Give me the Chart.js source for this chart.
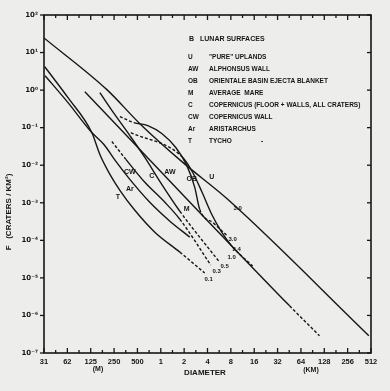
<!DOCTYPE html>
<html>
<head>
<meta charset="utf-8">
<script src="https://cdn.jsdelivr.net/npm/chart.js@4.4.1/dist/chart.umd.min.js"></script>
<style>
  html, body { margin: 0; padding: 0; background: #ededeb; }
  #wrap { width: 390px; height: 391px; }
</style>
</head>
<body>
<div id="wrap"><canvas id="grafica" width="390" height="391"></canvas></div>
<script>
// diameter axis (km) and the labels printed under it
const xTicks = [0.03125, 0.0625, 0.125, 0.25, 0.5, 1, 2, 4, 8, 16, 32, 64, 128, 256, 512];
const xTickLabels = ["31", "62", "125", "250", "500", "1", "2", "4", "8", "16", "32", "64", "128", "256", "512"];
const yTicks = [1e-7, 1e-6, 1e-5, 1e-4, 1e-3, 1e-2, 1e-1, 1, 10, 100];
const yTickLabels = ["10⁻⁷", "10⁻⁶", "10⁻⁵", "10⁻⁴", "10⁻³", "10⁻²", "10⁻¹", "10⁰", "10¹", "10²"];

// cumulative crater frequency curves: diameter (km) / F (craters per km²)
// *Dash = indexes of segments drawn dashed
const uD = [0.03125, 0.202, 0.537, 1.92, 7.28, 480];
const uF = [24.5, 1.03, 0.128, 0.0119, 1.24e-3, 2.9e-7];
const uDash = [];

const obD = [0.297, 0.449, 0.68, 1.03, 1.56, 2.16, 2.74, 3.17, 4.81, 7.28];
const obF = [0.197, 0.136, 0.114, 0.0698, 0.0296, 9.9e-3, 2.58e-3, 6.7e-4, 2.86e-4, 1.29e-4];
const obDash = [0, 7, 8];

const awD = [0.411, 1.92, 2.58, 3.37, 4.53, 6.09, 8.44, 15.3];
const awF = [0.0741, 0.0161, 6.4e-3, 2.0e-3, 4.95e-4, 1.65e-4, 6.6e-5, 2.07e-5];
const awDash = [0, 6];

const mD = [0.105, 45.7, 111];
const mF = [0.908, 1.8e-6, 2.88e-7];
const mDash = [1];

const cD = [0.164, 0.256, 0.399, 0.623, 0.971, 1.76, 5.58];
const cF = [0.853, 0.222, 0.0617, 0.0161, 3.72e-3, 5.96e-4, 2.8e-5];
const cDash = [5];

const cwD = [0.234, 0.355, 0.623, 1.13, 1.76, 4.40];
const cwF = [0.0428, 0.0143, 3.5e-3, 1.03e-3, 3.65e-4, 2.2e-5];
const cwDash = [0, 4];

const arD = [0.0323, 0.0637, 0.129, 0.185, 0.264, 0.399, 0.722, 1.31, 2.36];
const arF = [2.41, 0.463, 0.0741, 0.0356, 0.0126, 4.2e-3, 1.03e-3, 3.23e-4, 1.22e-4];
const arDash = [];

const tD = [0.032, 0.0637, 0.129, 0.164, 0.221, 0.297, 0.463, 0.837, 1.76, 3.68];
const tF = [4.18, 0.628, 0.0741, 0.0193, 5.7e-3, 2.15e-3, 6.3e-4, 1.65e-4, 4.86e-5, 1.35e-5];
const tDash = [8];

// key in the upper right
const legendCodes = ["U", "AW", "OB", "M", "C", "CW", "Ar", "T"];
const legendNames = ["\"PURE\" UPLANDS", "ALPHONSUS WALL", "ORIENTALE BASIN EJECTA BLANKET", "AVERAGE  MARE",
  "COPERNICUS (FLOOR + WALLS, ALL CRATERS)", "COPERNICUS WALL", "ARISTARCHUS", "TYCHO"];

// letters and numbers written next to the curves, anchored in data units
const curveNotes = [
  { text: "U", d: 4.53, f: 4.7e-3 },
  { text: "OB", d: 2.51, f: 4.2e-3 },
  { text: "AW", d: 1.31, f: 6.4e-3 },
  { text: "C", d: 0.766, f: 5.0e-3 },
  { text: "CW", d: 0.399, f: 6.4e-3 },
  { text: "Ar", d: 0.399, f: 2.28e-3 },
  { text: "T", d: 0.28, f: 1.4e-3 },
  { text: "M", d: 2.16, f: 6.7e-4 },
  { text: "3.0", d: 9.79, f: 7.1e-4 },
  { text: "3.0", d: 8.44, f: 1.08e-4 },
  { text: "2.4", d: 9.5, f: 5.8e-5 },
  { text: "1.0", d: 8.2, f: 3.6e-5 },
  { text: "0.5", d: 6.66, f: 2.07e-5 },
  { text: "0.3", d: 5.25, f: 1.52e-5 },
  { text: "0.1", d: 4.14, f: 9.4e-6 }
];

const ink = "#161616";
const curves = [
  { name: "U", d: uD, f: uF, dash: uDash },
  { name: "OB", d: obD, f: obF, dash: obDash },
  { name: "AW", d: awD, f: awF, dash: awDash },
  { name: "M", d: mD, f: mF, dash: mDash },
  { name: "C", d: cD, f: cF, dash: cDash },
  { name: "CW", d: cwD, f: cwF, dash: cwDash },
  { name: "Ar", d: arD, f: arF, dash: arDash },
  { name: "T", d: tD, f: tF, dash: tDash }
];

function line(ctx, x1, y1, x2, y2) {
  ctx.beginPath();
  ctx.moveTo(x1, y1);
  ctx.lineTo(x2, y2);
  ctx.stroke();
}

const scanDecor = {
  id: "scanDecor",
  beforeDraw(chart) {
    const ctx = chart.ctx;
    ctx.save();
    ctx.fillStyle = "#ededeb";
    ctx.fillRect(0, 0, chart.width, chart.height);
    ctx.restore();
  },
  afterDraw(chart) {
    const ctx = chart.ctx, a = chart.chartArea;
    const xs = chart.scales.x, ys = chart.scales.y;
    ctx.save();
    ctx.strokeStyle = ink;
    ctx.fillStyle = ink;

    // frame
    ctx.lineWidth = 1.6;
    ctx.strokeRect(a.left, a.top, a.right - a.left, a.bottom - a.top);

    // ticks: inward on bottom/top/right, outward on the left
    ctx.lineWidth = 1.3;
    xTicks.forEach((v, i) => {
      const px = xs.getPixelForValue(v);
      line(ctx, px, a.bottom, px, a.bottom - 5);
      line(ctx, px, a.top, px, a.top + 5);
      if (i < xTicks.length - 1) {
        const mx = xs.getPixelForValue(v * Math.SQRT2);
        line(ctx, mx, a.bottom, mx, a.bottom - 3);
        line(ctx, mx, a.top, mx, a.top + 3);
      }
    });
    yTicks.forEach(v => {
      const py = ys.getPixelForValue(v);
      line(ctx, a.left - 4, py, a.left, py);
      line(ctx, a.right - 4, py, a.right, py);
    });

    // axis captions
    ctx.textAlign = "center";
    ctx.textBaseline = "middle";
    ctx.font = "bold 8px 'Liberation Sans'";
    ctx.fillText("DIAMETER", 205, a.bottom + 20);
    ctx.font = "bold 7px 'Liberation Sans'";
    ctx.fillText("(M)", 98, a.bottom + 16);
    ctx.fillText("(KM)", 311, a.bottom + 17);
    ctx.save();
    ctx.translate(9, 212);
    ctx.rotate(-Math.PI / 2);
    ctx.font = "bold 8px 'Liberation Sans'";
    ctx.fillText("F   (CRATERS / KM²)", 0, 0);
    ctx.restore();

    // key
    ctx.textAlign = "left";
    ctx.font = "bold 7px 'Liberation Sans'";
    ctx.fillText("B", a.left + 145, a.top + 24);
    ctx.fillText("LUNAR SURFACES", a.left + 156, a.top + 24, 76);
    ctx.font = "bold 6.5px 'Liberation Sans'";
    legendCodes.forEach((code, i) => {
      const y = a.top + 42 + i * 12;
      ctx.fillText(code, a.left + 144, y);
      ctx.fillText(legendNames[i], a.left + 165, y, a.right - a.left - 167);
    });
    ctx.fillText("-", a.left + 217, a.top + 42 + 7 * 12);

    // notes along the curves
    ctx.textAlign = "center";
    curveNotes.forEach(n => {
      ctx.font = /^[0-9]/.test(n.text) ? "bold 6px 'Liberation Sans'" : "bold 7px 'Liberation Sans'";
      ctx.fillText(n.text, xs.getPixelForValue(n.d), ys.getPixelForValue(n.f));
    });
    ctx.restore();
  }
};

new Chart(document.getElementById("grafica").getContext("2d"), {
  type: "line",
  data: {
    datasets: curves.map(c => ({
      label: c.name,
      data: c.d.map((d, i) => ({ x: d, y: c.f[i] })),
      borderColor: ink,
      borderWidth: 1.4,
      pointRadius: 0,
      fill: false,
      cubicInterpolationMode: "monotone",
      segment: {
        borderDash: ctx => c.dash.includes(ctx.p0DataIndex) ? [3, 2] : undefined
      }
    }))
  },
  options: {
    responsive: false,
    animation: false,
    devicePixelRatio: 1,
    layout: { padding: { top: 15, right: 19, left: 0, bottom: 0 } },
    plugins: { legend: { display: false }, tooltip: { enabled: false } },
    scales: {
      x: {
        type: "logarithmic",
        min: 0.03125,
        max: 512,
        afterBuildTicks: s => { s.ticks = xTicks.map(v => ({ value: v })); },
        afterFit: s => { s.height = 38; },
        grid: { display: false, drawTicks: false },
        border: { display: false },
        ticks: {
          autoSkip: false,
          maxRotation: 0,
          padding: 4,
          color: ink,
          font: { family: "Liberation Sans", size: 7.5, weight: "bold" },
          callback: (v, i) => xTickLabels[i]
        }
      },
      y: {
        type: "logarithmic",
        min: 1e-7,
        max: 100,
        afterBuildTicks: s => { s.ticks = yTicks.map(v => ({ value: v })); },
        afterFit: s => { s.width = 44; },
        grid: { display: false, drawTicks: false },
        border: { display: false },
        ticks: {
          autoSkip: false,
          padding: 6,
          color: ink,
          font: { family: "DejaVu Sans", size: 7, weight: "bold" },
          callback: (v, i) => yTickLabels[i]
        }
      }
    }
  },
  plugins: [scanDecor]
});
</script>
</body>
</html>
